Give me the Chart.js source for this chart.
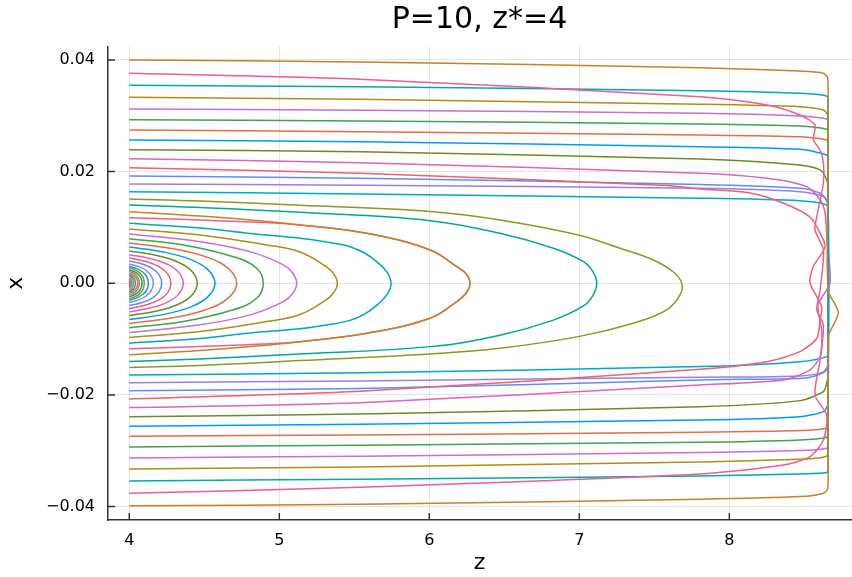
<!DOCTYPE html>
<html>
<head>
<meta charset="utf-8">
<script src="https://cdn.jsdelivr.net/npm/chart.js@4.4.1/dist/chart.umd.min.js"></script>
<style>
  html, body { margin: 0; padding: 0; background: #fff; }
  #wrap { width: 852px; height: 577px; }
</style>
</head>
<body>
<div id="wrap"><canvas id="orbits" width="852" height="577"></canvas></div>
<script>
// tick values and labels
const zTicks = [4, 5, 6, 7, 8];
const zTickLabels = ['4', '5', '6', '7', '8'];
const xTicks = [-0.04, -0.02, 0, 0.02, 0.04];
const xTickLabels = ['\u22120.04', '\u22120.02', '0.00', '0.02', '0.04'];

// y1 .. y40, z coordinates of each trajectory
const seriesZ = [
  [4, 4.002, 4],
  [4, 4.005, 4],
  [4, 4.007, 4.009, 4.007, 4],
  [4, 4.007, 4.011, 4.015, 4.016, 4.015, 4.011, 4.007, 4],
  [4, 4.011, 4.019, 4.025, 4.027, 4.025, 4.019, 4.011, 4],
  [4, 4.017, 4.029, 4.037, 4.04, 4.037, 4.029, 4.017, 4],
  [4, 4.023, 4.04, 4.051, 4.056, 4.051, 4.04, 4.023, 4],
  [4, 4.028, 4.048, 4.061, 4.067, 4.061, 4.048, 4.028, 4],
  [4, 4.035, 4.061, 4.078, 4.085, 4.078, 4.061, 4.035, 4],
  [4, 4.042, 4.072, 4.092, 4.1, 4.092, 4.072, 4.042, 4],
  [4, 4.053, 4.091, 4.117, 4.127, 4.117, 4.091, 4.053, 4],
  [4, 4.067, 4.115, 4.147, 4.16, 4.147, 4.115, 4.067, 4],
  [4, 4.091, 4.155, 4.199, 4.216, 4.199, 4.155, 4.091, 4],
  [4, 4.117, 4.2, 4.256, 4.278, 4.256, 4.2, 4.117, 4],
  [4, 4.151, 4.259, 4.331, 4.36, 4.331, 4.259, 4.151, 4],
  [4, 4.191, 4.327, 4.417, 4.453, 4.417, 4.327, 4.191, 4],
  [4, 4.24, 4.411, 4.525, 4.571, 4.525, 4.411, 4.24, 4],
  [4, 4.301, 4.515, 4.659, 4.716, 4.659, 4.515, 4.301, 4],
  [4, 4.36, 4.693, 4.849, 4.893, 4.849, 4.693, 4.36, 4],
  [4, 4.471, 4.805, 5.027, 5.09, 5.116, 5.09, 5.027, 4.805, 4.471, 4],
  [4, 4.471, 4.916, 5.138, 5.305, 5.36, 5.387, 5.36, 5.305, 5.138, 4.916, 4.471, 4],
  [4, 4.471, 4.805, 5.138, 5.305, 5.471, 5.571, 5.649, 5.718, 5.745, 5.718, 5.649, 5.571, 5.471, 5.305, 5.138, 4.805, 4.471, 4],
  [4, 4.471, 4.805, 5.138, 5.583, 6.005, 6.183, 6.245, 6.271, 6.245, 6.183, 6.005, 5.583, 5.138, 4.805, 4.471, 4],
  [4, 4.471, 4.805, 5.138, 5.583, 6.005, 6.183, 6.245, 6.271, 6.245, 6.183, 6.005, 5.583, 5.138, 4.805, 4.471, 4],
  [4, 4.471, 5.138, 6.005, 6.471, 6.827, 7.027, 7.09, 7.116, 7.09, 7.027, 6.827, 6.471, 6.005, 5.138, 4.471, 4],
  [4, 4.471, 5.138, 6.005, 6.471, 6.993, 7.271, 7.493, 7.627, 7.683, 7.671, 7.583, 7.36, 6.993, 6.471, 6.005, 5.138, 4.471, 4],
  [4, 5.538, 7.805, 8.471, 8.649, 8.658, 8.658, 8.649, 8.471, 7.805, 5.538, 4],
  [4, 5.538, 7.805, 8.471, 8.627, 8.658, 8.658, 8.627, 8.471, 7.805, 5.538, 4],
  [4, 5.538, 7.805, 8.471, 8.605, 8.649, 8.658, 8.658, 8.649, 8.571, 8.471, 7.805, 5.538, 4],
  [4, 5.538, 7.585, 7.805, 8.138, 8.358, 8.538, 8.605, 8.638, 8.558, 8.538, 8.616, 8.605, 8.583, 8.471, 8.249, 7.805, 5.538, 4],
  [4, 5.538, 7.805, 8.249, 8.516, 8.605, 8.638, 8.651, 8.671, 8.591, 8.616, 8.616, 8.605, 8.538, 8.36, 7.805, 5.538, 4],
  [4, 5.538, 7.805, 8.471, 8.605, 8.649, 8.658, 8.658, 8.649, 8.627, 8.471, 7.805, 5.538, 4],
  [4, 5.538, 7.805, 8.471, 8.649, 8.658, 8.658, 8.627, 8.471, 7.805, 5.538, 4],
  [4, 5.538, 7.805, 8.471, 8.649, 8.658, 8.658, 8.649, 8.471, 7.805, 5.538, 4],
  [4, 5.538, 7.805, 8.471, 8.649, 8.658, 8.658, 8.649, 8.471, 7.805, 5.538, 4],
  [4, 5.538, 7.805, 8.471, 8.649, 8.658, 8.658, 8.649, 8.471, 7.805, 5.538, 4],
  [4, 5.538, 7.805, 8.471, 8.627, 8.656, 8.658, 8.658, 8.656, 8.627, 8.471, 7.805, 5.538, 4],
  [4, 5.538, 7.805, 8.471, 8.649, 8.658, 8.658, 8.649, 8.471, 7.805, 5.538, 4],
  [4, 5.538, 7.805, 8.249, 8.471, 8.571, 8.56, 8.605, 8.627, 8.627, 8.583, 8.571, 8.627, 8.605, 8.583, 8.627, 8.605, 8.571, 8.649, 8.627, 8.538, 8.36, 7.805, 5.538, 4],
  [4, 5.538, 7.805, 8.471, 8.627, 8.656, 8.658, 8.658, 8.727, 8.671, 8.66, 8.658, 8.656, 8.627, 8.471, 7.805, 5.538, 4]
];

// matching x coordinates
const seriesX = [
  [0.00023, 0, -0.00023],
  [0.00048, 0, -0.00048],
  [0.00072, 0.0004, 0, -0.0004, -0.00072],
  [0.00098, 0.00084, 0.00063, 0.00036, 0, -0.00036, -0.00063, -0.00084, -0.00098],
  [0.00125, 0.00107, 0.00082, 0.00047, 0, -0.00047, -0.00082, -0.00107, -0.00125],
  [0.00152, 0.00129, 0.00098, 0.00056, 0, -0.00056, -0.00098, -0.00129, -0.00152],
  [0.00179, 0.00152, 0.00116, 0.00066, 0, -0.00066, -0.00116, -0.00152, -0.00179],
  [0.00211, 0.00179, 0.00138, 0.00079, 0, -0.00079, -0.00138, -0.00179, -0.00211],
  [0.00242, 0.00206, 0.00158, 0.0009, 0, -0.0009, -0.00158, -0.00206, -0.00242],
  [0.00278, 0.00236, 0.00181, 0.00102, 0, -0.00102, -0.00181, -0.00236, -0.00278],
  [0.00304, 0.00258, 0.00197, 0.00113, 0, -0.00113, -0.00197, -0.00258, -0.00304],
  [0.00346, 0.00294, 0.00224, 0.00127, 0, -0.00127, -0.00224, -0.00294, -0.00346],
  [0.00399, 0.0034, 0.0026, 0.00149, 0, -0.00149, -0.0026, -0.0034, -0.00399],
  [0.00453, 0.00385, 0.00294, 0.00168, 0, -0.00168, -0.00294, -0.00385, -0.00453],
  [0.00512, 0.00435, 0.00333, 0.0019, 0, -0.0019, -0.00333, -0.00435, -0.00512],
  [0.00578, 0.00492, 0.00376, 0.00215, 0, -0.00215, -0.00376, -0.00492, -0.00578],
  [0.0065, 0.00553, 0.00423, 0.0024, 0, -0.0024, -0.00423, -0.00553, -0.0065],
  [0.00722, 0.00614, 0.00469, 0.00267, 0, -0.00267, -0.00469, -0.00614, -0.00722],
  [0.00799, 0.00686, 0.00476, 0.00269, 0, -0.00269, -0.00476, -0.00686, -0.00799],
  [0.00883, 0.00745, 0.00566, 0.00328, 0.0018, 0, -0.0018, -0.00328, -0.00566, -0.00745, -0.00883],
  [0.00972, 0.00865, 0.00686, 0.0056, 0.0031, 0.0018, 0, -0.0018, -0.0031, -0.0056, -0.00686, -0.00865, -0.00972],
  [0.01074, 0.0099, 0.00892, 0.00806, 0.00743, 0.00655, 0.00537, 0.00387, 0.002, 0, -0.002, -0.00397, -0.00547, -0.00665, -0.00753, -0.00816, -0.00892, -0.0099, -0.01074],
  [0.01175, 0.01133, 0.01098, 0.01044, 0.00895, 0.00596, 0.00297, 0.0017, 0, -0.0018, -0.00327, -0.00627, -0.00895, -0.01046, -0.01098, -0.01133, -0.01175],
  [0.01282, 0.01205, 0.01133, 0.01044, 0.00895, 0.00596, 0.00297, 0.0017, 0, -0.0018, -0.00327, -0.00627, -0.00895, -0.01046, -0.01133, -0.01205, -0.01282],
  [0.01402, 0.01357, 0.01271, 0.01121, 0.00895, 0.00627, 0.00387, 0.0021, 0, -0.0022, -0.00407, -0.0066, -0.0093, -0.01135, -0.01266, -0.01355, -0.01402],
  [0.01509, 0.01474, 0.01397, 0.01285, 0.01134, 0.00865, 0.00627, 0.00417, 0.00202, 0, -0.0021, -0.00478, -0.00716, -0.00956, -0.01164, -0.01266, -0.01385, -0.01472, -0.01509],
  [0.0164, 0.01599, 0.01522, 0.01479, 0.01402, 0.01277, -0.0123, -0.01314, -0.01404, -0.01493, -0.01601, -0.01642],
  [0.01778, 0.01755, 0.01701, 0.0164, 0.01551, 0.01402, -0.01445, -0.01588, -0.0166, -0.01683, -0.01749, -0.0178],
  [0.01921, 0.0188, 0.0177, 0.01701, 0.01611, 0.01491, 0.01312, -0.01409, -0.01552, -0.0166, -0.01705, -0.01731, -0.01887, -0.01923],
  [0.0207, 0.0197, 0.01751, 0.01688, 0.01617, 0.01438, 0.01187, 0.00901, 0.00651, 0.00292, 0.00005, -0.00419, -0.00657, -0.00985, -0.01225, -0.01404, -0.0154, -0.01934, -0.02072],
  [0.02231, 0.02159, 0.0197, 0.0188, 0.0173, 0.01496, 0.01262, 0.00775, 0.00005, -0.00389, -0.00836, -0.01069, -0.01314, -0.01552, -0.01731, -0.01821, -0.02138, -0.02227],
  [0.02392, 0.02356, 0.02226, 0.02118, 0.02029, 0.0185, 0.01671, -0.01642, -0.0179, -0.0194, -0.02102, -0.0221, -0.0234, -0.02389],
  [0.02566, 0.02535, 0.02446, 0.02399, 0.02297, 0.02208, -0.0216, -0.02298, -0.02389, -0.02448, -0.02525, -0.0256],
  [0.02745, 0.02714, 0.02655, 0.02625, 0.02566, 0.02495, -0.02519, -0.02596, -0.02639, -0.02668, -0.02716, -0.02739],
  [0.02929, 0.02906, 0.02852, 0.02816, 0.02757, 0.02691, -0.02681, -0.02757, -0.02806, -0.02847, -0.029, -0.02931],
  [0.03121, 0.03098, 0.03044, 0.02996, 0.02942, 0.0287, -0.02877, -0.02954, -0.02997, -0.03033, -0.03098, -0.03128],
  [0.0333, 0.03295, 0.03205, 0.03162, 0.03103, 0.03013, 0.02924, -0.02985, -0.03074, -0.03115, -0.03151, -0.032, -0.03289, -0.03325],
  [0.03545, 0.0352, 0.03449, 0.03402, 0.03354, 0.03283, -0.03306, -0.03391, -0.03414, -0.0345, -0.03509, -0.0354],
  [0.0376, 0.03653, 0.03341, 0.03193, 0.03014, 0.02835, 0.02566, 0.02387, 0.02154, 0.01796, 0.01192, 0.00954, 0.00596, -0.0012, -0.00478, -0.00747, -0.01374, -0.02001, -0.02359, -0.02806, -0.03105, -0.03254, -0.03415, -0.03653, -0.0376],
  [0.04, 0.03964, 0.0386, 0.03801, 0.0376, 0.03671, 0.02, -0.0012, -0.00519, -0.00867, -0.00956, -0.025, -0.03671, -0.0376, -0.03821, -0.03868, -0.03957, -0.03987]
];

// Plots.jl default palette
const palette = [
  '#009BFA', '#E36F47', '#3EA44E', '#C371D2', '#AC8E18', '#00AAAE', '#ED5E93', '#C68225',
  '#00A98D', '#8E971E', '#00A8CB', '#9B7FE9', '#618CF6', '#F05F73', '#DD64B6', '#6A8D22'
];

const datasets = seriesZ.map((zs, i) => ({
  label: 'y' + (i + 1),
  data: zs.map((z, j) => ({ x: z, y: seriesX[i][j] })),
  showLine: true,
  borderColor: palette[i % palette.length],
  borderWidth: 1.5,
  pointRadius: 0,
  tension: i < 26 ? 0.4 : 0.25,
  order: seriesZ.length - i   // later series on top, like Plots
}));

// ticks point inwards from the two spines
const innerTicks = {
  id: 'innerTicks',
  afterDraw(chart) {
    const { ctx, chartArea: a, scales: { x, y } } = chart;
    ctx.save();
    ctx.strokeStyle = '#333';
    ctx.lineWidth = 1.5;
    ctx.beginPath();
    x.ticks.forEach(t => {
      const px = x.getPixelForValue(t.value);
      ctx.moveTo(px, a.bottom);
      ctx.lineTo(px, a.bottom - 7);
    });
    y.ticks.forEach(t => {
      const py = y.getPixelForValue(t.value);
      ctx.moveTo(a.left, py);
      ctx.lineTo(a.left + 7, py);
    });
    ctx.stroke();
    ctx.restore();
  }
};

const font = 'DejaVu Sans';

new Chart(document.getElementById('orbits'), {
  type: 'scatter',
  data: { datasets },
  options: {
    responsive: false,
    animation: false,
    events: [],
    layout: { padding: { left: 0, right: 1, top: 0, bottom: 0 } },
    plugins: {
      legend: { display: false },
      tooltip: { enabled: false },
      title: {
        display: true,
        fullSize: false,
        text: 'P=10, z*=4',
        color: '#000',
        font: { family: font, size: 30, weight: 'normal' },
        padding: { top: 2, bottom: 8.5 }
      }
    },
    scales: {
      x: {
        type: 'linear',
        min: 3.858,
        max: 8.811,
        afterBuildTicks: s => { s.ticks = zTicks.map(v => ({ value: v })); },
        afterFit: s => { s.height = 57; },
        ticks: {
          callback: (v, i) => zTickLabels[i],
          color: '#000',
          font: { family: font, size: 16 },
          padding: 11,
          maxRotation: 0
        },
        grid: { color: 'rgba(0,0,0,0.1)', lineWidth: 1, drawTicks: false },
        border: { display: true, color: '#333', width: 1.5 },
        title: {
          display: true,
          text: 'z',
          color: '#000',
          font: { family: font, size: 22 },
          padding: { top: 0, bottom: 1 }
        }
      },
      y: {
        type: 'linear',
        min: -0.0424,
        max: 0.0424,
        afterBuildTicks: s => { s.ticks = xTicks.map(v => ({ value: v })); },
        afterFit: s => { s.width = 108; },
        ticks: {
          callback: (v, i) => xTickLabels[i],
          color: '#000',
          font: { family: font, size: 16 },
          padding: 13
        },
        grid: { color: 'rgba(0,0,0,0.1)', lineWidth: 1, drawTicks: false },
        border: { display: true, color: '#333', width: 1.5 },
        title: {
          display: true,
          text: 'x',
          color: '#000',
          font: { family: font, size: 22 },
          padding: { top: 3, bottom: 0 }
        }
      }
    }
  },
  plugins: [innerTicks]
});
</script>
</body>
</html>
